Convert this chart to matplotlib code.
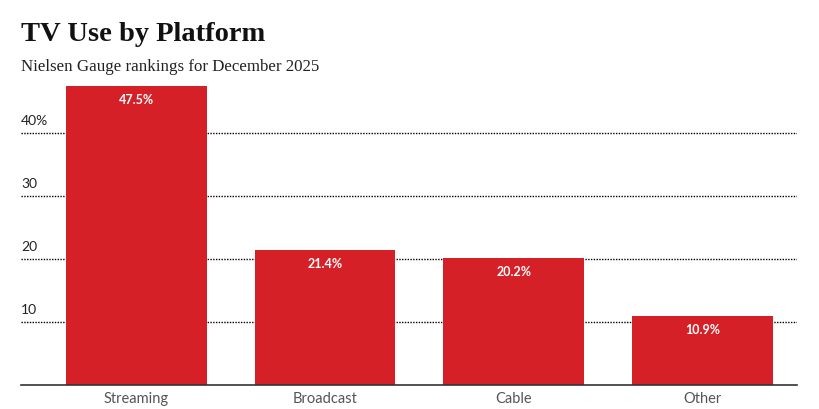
import matplotlib
matplotlib.use("Agg")
import matplotlib.pyplot as plt
import matplotlib.transforms as transforms

platforms = ["Streaming", "Broadcast", "Cable", "Other"]
shares = [47.5, 21.4, 20.2, 10.9]
grid_values = [10, 20, 30, 40]
grid_labels = ["10", "20", "30", "40%"]

BAR_RED = "#d62027"


def main():
    fig = plt.figure(figsize=(8.19, 4.09), dpi=100)
    ax = fig.add_axes([0.0256, 0.0587, 0.9475, 0.755])

    x = range(len(platforms))
    ax.bar(x, shares, width=0.746, color=BAR_RED, zorder=3)

    # dotted gridlines, labels sit above each line at the left edge
    trans = transforms.blended_transform_factory(ax.transAxes, ax.transData)
    for val, lab in zip(grid_values, grid_labels):
        ax.axhline(val, color="black", linestyle=(0, (1, 1)), linewidth=1.0, zorder=1)
        ax.text(0, val + 1.0, lab, transform=trans, ha="left", va="bottom",
                fontsize=10, family="Lato", color="#222222")

    # value labels inside the bars
    for i, v in enumerate(shares):
        ax.text(i, v - 1.3, f"{v}%", ha="center", va="top", color="white",
                fontsize=9, family="Lato", fontweight="bold", zorder=4)

    ax.set_xlim(-0.611, 3.5)
    ax.set_ylim(0, 49)
    ax.set_xticks(list(x))
    ax.set_xticklabels(platforms, family="Lato", fontsize=10.5, color="#555555")
    ax.tick_params(axis="x", length=0, pad=5)
    ax.set_yticks([])
    for side in ["top", "right", "left"]:
        ax.spines[side].set_visible(False)
    ax.spines["bottom"].set_color("#333333")
    ax.spines["bottom"].set_linewidth(1.2)
    ax.spines["bottom"].set_zorder(5)

    fig.text(0.0256, 0.9, "TV Use by Platform", family="Liberation Serif",
             fontweight="bold", fontsize=20.5, ha="left", va="baseline", color="#111111")
    fig.text(0.0256, 0.827, "Nielsen Gauge rankings for December 2025",
             family="Liberation Serif", fontsize=12.2, ha="left", va="baseline", color="#222222")

    fig.savefig("out.png", dpi=100)


if __name__ == "__main__":
    main()
